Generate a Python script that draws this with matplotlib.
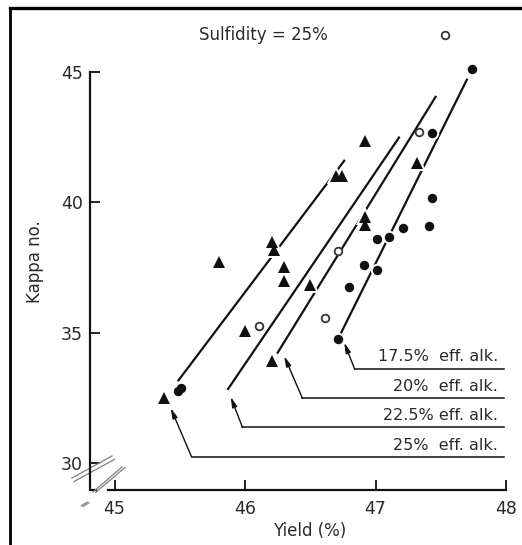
import matplotlib.pyplot as plt
import numpy as np

# data
tri_x = [46.92, 46.70, 46.74, 47.32, 46.21, 46.22, 45.80, 46.30, 46.30, 46.50, 46.92, 46.92, 46.00, 46.21, 45.38]
tri_y = [42.35, 41.00, 41.00, 41.49, 38.48, 38.15, 37.70, 37.53, 36.96, 36.83, 39.45, 39.12, 35.05, 33.92, 32.51]

dot_x = [47.74, 47.43, 47.43, 47.41, 47.21, 47.10, 47.01, 46.91, 47.01, 46.80, 46.71, 45.49, 45.51]
dot_y = [45.09, 42.64, 40.17, 39.09, 39.02, 38.68, 38.59, 37.60, 37.40, 36.76, 34.76, 32.78, 32.86]

open_x = [47.53, 47.33, 46.71, 46.61, 46.11]
open_y = [46.41, 42.68, 38.12, 35.55, 35.26]

labels = ['25%  eff. alk.', '22.5% eff. alk.', '20%  eff. alk.', '17.5%  eff. alk.']
line_x0 = [45.49, 45.87, 46.25, 46.73]
line_y0 = [33.17, 32.84, 34.23, 34.93]
line_x1 = [46.76, 47.18, 47.46, 47.70]
line_y1 = [41.59, 42.48, 44.04, 44.70]

tip_x = [45.43, 45.89, 46.30, 46.76]
tip_y = [32.11, 32.54, 34.10, 34.62]
corner_x = [45.59, 45.98, 46.44, 46.84]
corner_y = [30.24, 31.37, 32.48, 33.60]
label_y = [30.69, 31.84, 32.95, 34.07]

xticks = [45, 46, 47, 48]
yticks = [30, 35, 40, 45]

ink = '#111111'
txt = '#2a2a2a'

fig = plt.figure(figsize=(5.22, 5.45), dpi=100)
ax = fig.add_axes([90/522, 55/545, 425/522, 478/545])
ax.set_xlim(44.812, 44.812 + 425/130.5)
ax.set_ylim(28.965, 28.965 + 478/26.08)

for i in range(4):
    ax.plot([line_x0[i], line_x1[i]], [line_y0[i], line_y1[i]], color=ink, lw=1.6, zorder=2)
    # leader line + arrow
    ax.plot([47.985, corner_x[i]], [corner_y[i], corner_y[i]], color=ink, lw=1.1, zorder=2)
    ax.annotate('', xy=(tip_x[i], tip_y[i]), xytext=(corner_x[i], corner_y[i]),
                arrowprops=dict(arrowstyle='-|>,head_length=0.6,head_width=0.15',
                                color=ink, lw=1.0, shrinkA=0, shrinkB=0), zorder=2)
    ax.text(47.94, label_y[i], labels[i], ha='right', va='center', fontsize=11.5, color=txt)

# white halos first, so the fitted lines break around the points
ax.plot(tri_x, tri_y, '^', ms=8, mfc='white', mec='white', mew=2.8, ls='none', zorder=3)
ax.plot(dot_x, dot_y, 'o', ms=6.8, mfc='white', mec='white', mew=2.8, ls='none', zorder=3)
ax.plot(tri_x, tri_y, '^', ms=8, mfc=ink, mec=ink, mew=0, ls='none', zorder=4)
ax.plot(dot_x, dot_y, 'o', ms=6.8, mfc=ink, mec=ink, mew=0, ls='none', zorder=4)
ax.plot(open_x, open_y, 'o', ms=5.5, mfc='white', mec='#333333', mew=1.3, ls='none', zorder=4)

ax.text(46.14, 46.41, 'Sulfidity = 25%', ha='center', va='center', fontsize=12, color=txt)

for s in ['top', 'right']:
    ax.spines[s].set_visible(False)
ax.spines['left'].set_bounds(28.965, 45)
ax.spines['bottom'].set_bounds(44.95, 48)
ax.plot([44.812, 44.866], [28.965, 28.965], color=ink, lw=1.6, clip_on=False, solid_capstyle='butt')
for s in ['left', 'bottom']:
    ax.spines[s].set_linewidth(1.6)
    ax.spines[s].set_color(ink)
ax.set_xticks(xticks)
ax.set_yticks(yticks)
ax.tick_params(direction='in', length=7, width=1.3, colors=ink, labelcolor=txt, labelsize=12.5)
ax.tick_params(axis='x', pad=7)
ax.tick_params(axis='y', pad=5)
ax.patch.set_alpha(0)

# axis break marks (two double slashes + a small one)
gray = '#808080'
ax.plot([44.674, 44.980], [29.425, 30.270], color=gray, lw=0.9, clip_on=False)
ax.plot([44.690, 45.000], [29.290, 30.140], color=gray, lw=0.9, clip_on=False)
ax.plot([44.835, 45.057], [28.888, 29.847], color=gray, lw=0.9, clip_on=False)
ax.plot([44.855, 45.080], [28.870, 29.830], color=gray, lw=0.9, clip_on=False)
ax.plot([44.745, 44.790], [28.360, 28.500], color=gray, lw=0.9, clip_on=False)
ax.plot([44.760, 44.805], [28.340, 28.480], color=gray, lw=0.9, clip_on=False)

fig.text(35/522, 1 - 262/545, 'Kappa no.', rotation=90, ha='center', va='center', fontsize=12, color=txt)
fig.text(310/522, 1 - 531/545, 'Yield (%)', ha='center', va='center', fontsize=12, color=txt)

# scan border
fig.add_artist(plt.Line2D([10/522, 1], [1 - 7.5/545, 1 - 7.5/545], color='black', lw=2.4))
fig.add_artist(plt.Line2D([10/522, 10/522], [0, 1 - 7.5/545], color='black', lw=2.0))

fig.savefig('out.png', dpi=100)
